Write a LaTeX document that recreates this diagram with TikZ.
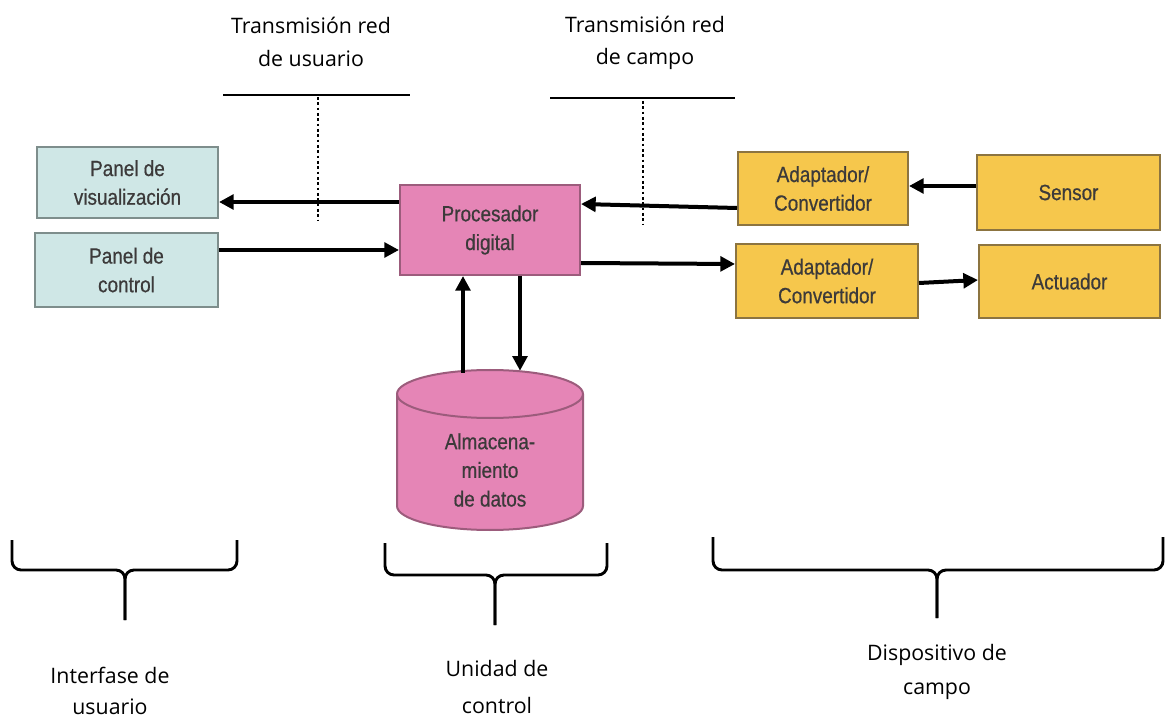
\documentclass[tikz,border=0pt]{standalone}
\usepackage{fontspec}
\setmainfont{Open Sans}
\newfontfamily\boxfont[FakeStretch=0.86,FakeBold=0.6]{Liberation Sans}
\usetikzlibrary{arrows.meta}
\newlength\px \setlength\px{0.75pt}
\definecolor{bluefill}{HTML}{CFE7E6}
\definecolor{blueline}{HTML}{7E8E8C}
\definecolor{pinkfill}{HTML}{E585B6}
\definecolor{pinkline}{HTML}{9C5C7C}
\definecolor{yelfill}{HTML}{F6C74C}
\definecolor{yelline}{HTML}{8C7440}
\definecolor{boxtext}{HTML}{3C3A3A}
\tikzset{
  basebox/.style={rectangle, line width=1.5pt, align=center, inner sep=0pt,
    text=boxtext, font=\boxfont\fontsize{16.5}{21.5}\selectfont},
  bluebox/.style={basebox, draw=blueline, fill=bluefill},
  pinkbox/.style={basebox, draw=pinkline, fill=pinkfill},
  yelbox/.style={basebox, draw=yelline, fill=yelfill},
  arr/.style={line width=3pt, -{Triangle[length=11pt,width=11pt]}},
  dotline/.style={line width=2.2pt, dash pattern=on 2pt off 2pt},
  hline/.style={line width=1.8pt},
  bracel/.style={line width=2.2pt, rounded corners=9\px},
  lab/.style={align=center, font=\fontsize{16}{24.5}\selectfont, text=black}
}
\begin{document}
\begin{tikzpicture}[x=0.75pt,y=-0.75pt]
\useasboundingbox[fill=white] (0,0) rectangle (1167,723);

% boxes
\node[bluebox, minimum width=181\px, minimum height=71\px] (vis) at (127.5,182.5) {Panel de\\visualización};
\node[bluebox, minimum width=183\px, minimum height=74\px] (ctl) at (126.5,270) {Panel de\\control};
\node[pinkbox, minimum width=180\px, minimum height=90\px] (proc) at (490,230) {Procesador\\digital};
\node[yelbox, minimum width=170\px, minimum height=73\px] (ad1) at (823,188.5) {Adaptador/\\Convertidor};
\node[yelbox, minimum width=183\px, minimum height=75\px] (sen) at (1068.5,192.5) {Sensor};
\node[yelbox, minimum width=182\px, minimum height=74\px] (ad2) at (827,281) {Adaptador/\\Convertidor};
\node[yelbox, minimum width=181\px, minimum height=73\px] (act) at (1069.5,281.5) {Actuador};

% database cylinder
\node[minimum width=186\px, minimum height=160\px, inner sep=0pt] (db) at (490,450) {};
\filldraw[fill=pinkfill, draw=pinkline, line width=1.5pt]
  (397,394) -- (397,506) arc[start angle=180,end angle=360,x radius=93\px,y radius=24\px]
  -- (583,394) arc[start angle=0,end angle=180,x radius=93\px,y radius=24\px] -- cycle;
\draw[pinkline, line width=1.5pt] (397,394) arc[start angle=180,end angle=360,x radius=93\px,y radius=24\px];
\node[basebox, text=boxtext, font=\boxfont\fontsize{16.5}{21.5}\selectfont] (dbtext) at (490,470) {Almacena-\\miento\\de datos};

% arrows
\draw[arr] ([yshift=28\px]proc.west) -- ([yshift=-19.5\px]vis.east);
\draw[arr] ([yshift=20\px]ctl.east) -- ([yshift=-20\px]proc.west);
\draw[arr] ([yshift=-19.5\px]ad1.west) -- ([yshift=26\px]proc.east);
\draw[arr] ([yshift=-33\px]proc.east) -- ([yshift=17\px]ad2.west);
\draw[arr] ([yshift=6.5\px]sen.west) -- ([yshift=2.5\px]ad1.east);
\draw[arr] ([yshift=-2\px]ad2.east) -- ([yshift=1.5\px]act.west);
\draw[arr] ([xshift=-27\px,yshift=-3\px]db.north) -- ([xshift=-27\px]proc.south);
\draw[arr] ([xshift=30\px]proc.south) -- ([xshift=30\px,yshift=-1\px]db.north);

% network lines
\draw[hline] (223,95) -- (410,95);
\draw[hline] (550,98) -- (735,98);
\draw[dotline] (318,97) -- (318,220);
\draw[dotline] (643,101) -- (643,225);

% labels
\node[lab] (t1) at (311,42) {Transmisión red\\de usuario};
\node[lab] (t2) at (645,43) {Transmisión red\\de campo};

% braces
\draw[bracel] (12,540) -- (12,570) -- (125,570) -- (125,620);
\draw[bracel] (237,540) -- (237,570) -- (125,570) -- (125,620);
\draw[bracel] (385,543) -- (385,575) -- (495,575) -- (495,625);
\draw[bracel] (607,543) -- (607,575) -- (495,575) -- (495,625);
\draw[bracel] (713,537) -- (713,570) -- (937,570) -- (937,618);
\draw[bracel] (1163,537) -- (1163,570) -- (937,570) -- (937,618);

\node[lab, font=\fontsize{16}{23}\selectfont] (g1) at (110,691) {Interfase de\\usuario};
\node[lab, font=\fontsize{16}{28}\selectfont] (g2) at (497,687) {Unidad de\\control};
\node[lab, font=\fontsize{16}{26}\selectfont] (g3) at (937,672) {Dispositivo de\\campo};
\end{tikzpicture}
\end{document}
